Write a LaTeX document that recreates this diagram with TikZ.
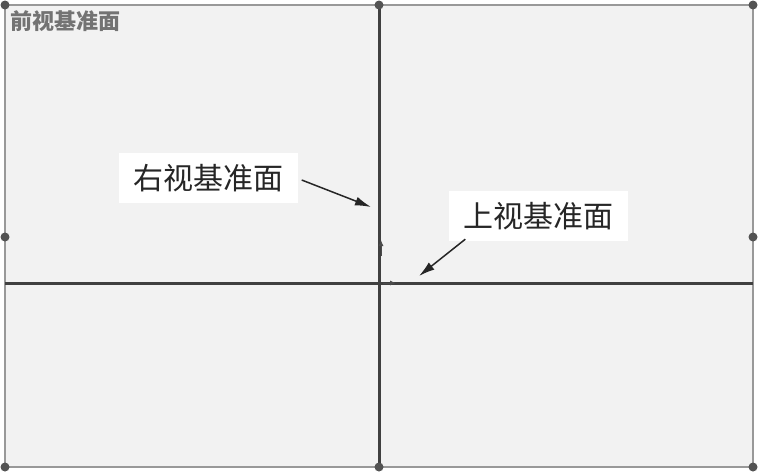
\documentclass[tikz,border=0pt]{standalone}
\usepackage{fontspec}
\newfontfamily\cjk{Noto Sans CJK SC}
\usetikzlibrary{arrows.meta}
\begin{document}
\begin{tikzpicture}[x=1pt,y=-1pt,
  handle/.style={circle,fill=gray!65!black,inner sep=0pt,minimum size=9pt},
  frame/.style={draw=gray!80,line width=2.2pt},
  axisline/.style={draw=black!75,line width=3pt},
  callout/.style={fill=white,inner sep=0pt,minimum width=179pt,minimum height=50pt,font=\cjk\fontsize{30}{30}\selectfont,text=black!85},
  pointer/.style={-{Latex[length=16pt,width=9pt]},line width=1.5pt,black!85}]
\useasboundingbox (0,0) rectangle (759,474);
\fill[white] (0,0) rectangle (759,474);
\fill[black!5] (5,5) rectangle (753,467);
\draw[frame] (5,5) rectangle (753,467);
\draw[axisline] (379,5) -- (379,467);
\draw[axisline] (5,283) -- (753,283);
% small axis marks at origin
\draw[-{Latex[length=6pt,width=5pt]},black!70,line width=1pt] (381,256) -- (381,240);
\draw[-{Latex[length=6pt,width=5pt]},black!70,line width=1pt] (383,283) -- (396,283);
% handles
\foreach \n/\p in {h1/{(5,5)},h2/{(379,5)},h3/{(753,5)},h4/{(5,237)},h5/{(753,237)},h6/{(5,467)},h7/{(379,467)},h8/{(753,467)}}
  \node[handle] (\n) at \p {};
\node[anchor=north west,inner sep=0pt,font=\cjk\bfseries\fontsize{22}{22}\selectfont,text=black!55] (front) at (10,10) {前视基准面};
\node[callout] (right) at (208,178) {右视基准面};
\node[callout] (top) at (538,216) {上视基准面};
\coordinate (rtip) at (371,207);
\coordinate (ttip) at (419,276);
\draw[pointer] (right.east) ++(4,2) -- (rtip);
\draw[pointer] (top.south west) ++(17,-2) -- (ttip);
\end{tikzpicture}
\end{document}
